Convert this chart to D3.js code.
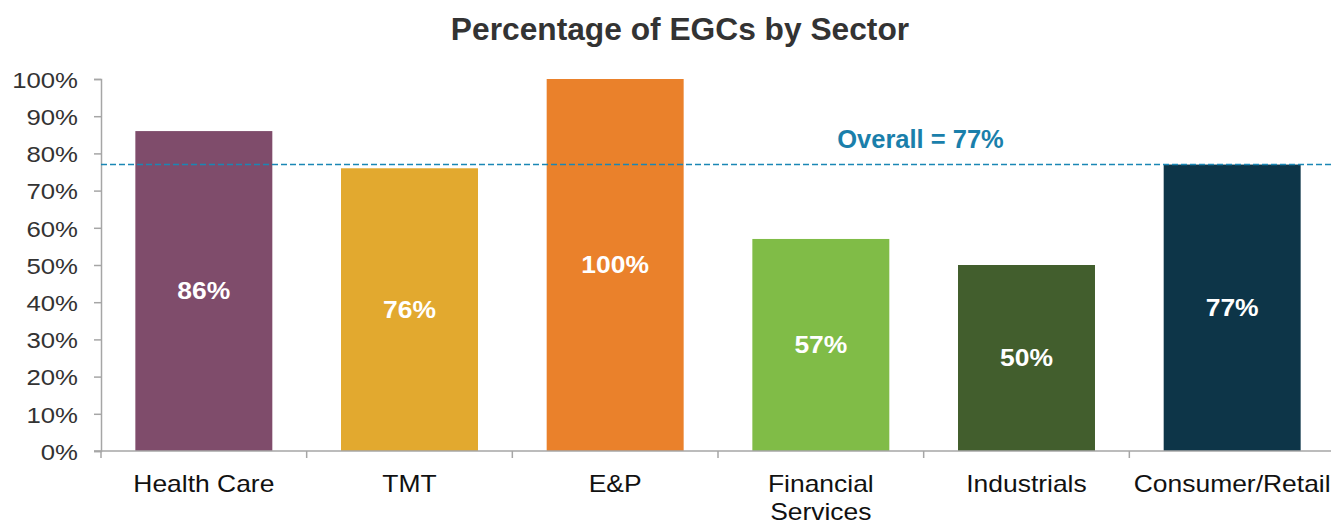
<!DOCTYPE html>
<html>
<head>
<meta charset="utf-8">
<script src="https://cdn.jsdelivr.net/npm/d3@7"></script>
<style>
  body { margin: 0; background: #fff; }
  text { font-family: "Liberation Sans", Arial, sans-serif; }
</style>
</head>
<body>
<svg id="chart" width="1331" height="522"></svg>
<script>
var sectors = ["Health Care", "TMT", "E&P", "Financial Services", "Industrials", "Consumer/Retail"];
var pctEGC = [86, 76, 100, 57, 50, 77];
var barColors = ["#7f4c6b", "#e2a92f", "#ea812b", "#80bc47", "#425e2d", "#0d3548"];
var yTicks = [0, 10, 20, 30, 40, 50, 60, 70, 80, 90, 100];
var overall = 77;

(function(){
  var svg = d3.select("#chart"),
      plotLeft = 101, plotRight = 1335, plotTop = 79, plotBottom = 451;

  // the source text is a bit wider than our font, stretch it around its anchor
  var stretch = function(sel, sx){
    sel.attr("transform", function(){
      var t = d3.select(this);
      var ax = +t.attr("x") || 0, ay = +t.attr("y") || 0;
      return "translate(" + ax + "," + ay + ") scale(" + sx + ",1) translate(" + (-ax) + "," + (-ay) + ")";
    });
  };

  var data = sectors.map(function(s, i){ return {sector: s, value: pctEGC[i], color: barColors[i]}; });

  var x = d3.scaleBand().domain(sectors).range([plotLeft, plotRight]).paddingInner(0.334).paddingOuter(0.167);
  var y = d3.scaleLinear().domain([0, 100]).range([plotBottom, plotTop]);

  // title
  svg.append("text")
    .attr("x", 680).attr("y", 40)
    .attr("text-anchor", "middle")
    .style("font-size", "30.5px").style("font-weight", "bold")
    .style("fill", "#333")
    .text("Percentage of EGCs by Sector")
    .call(stretch, 1.04);

  // bars
  svg.append("g").selectAll("rect")
    .data(data).enter().append("rect")
    .attr("x", function(d){ return x(d.sector); })
    .attr("y", function(d){ return y(d.value); })
    .attr("width", x.bandwidth())
    .attr("height", function(d){ return y(0) - y(d.value); })
    .attr("fill", function(d){ return d.color; });

  // value labels
  svg.append("g").selectAll("text")
    .data(data).enter().append("text")
    .attr("x", function(d){ return x(d.sector) + x.bandwidth() / 2; })
    .attr("y", function(d){ return (y(d.value) + y(0)) / 2 + 8.3; })
    .attr("text-anchor", "middle")
    .style("font-size", "23px").style("font-weight", "bold")
    .style("fill", "#fff")
    .text(function(d){ return d.value + "%"; })
    .call(stretch, 1.15);

  // y axis
  var yAxis = svg.append("g")
    .attr("transform", "translate(" + plotLeft + ",0)")
    .call(d3.axisLeft(y).tickValues(yTicks).tickFormat(function(d){ return d + "%"; }).tickSize(7).tickPadding(16));
  yAxis.select(".domain").attr("stroke", "#a6a6a6").attr("stroke-width", 1.5);
  yAxis.selectAll(".tick line").attr("stroke", "#a6a6a6").attr("stroke-width", 1.5);
  yAxis.selectAll(".tick text")
    .style("font-size", "23px").style("fill", "#333")
    .attr("dy", "0.36em")
    .style("font-family", "Liberation Sans, Arial, sans-serif")
    .call(stretch, 1.12);

  // x axis baseline and separators
  var xAxis = svg.append("g");
  xAxis.append("line")
    .attr("x1", plotLeft - 7).attr("x2", 1331)
    .attr("y1", plotBottom).attr("y2", plotBottom)
    .attr("stroke", "#a6a6a6").attr("stroke-width", 1.5);
  var boundaries = d3.range(sectors.length + 1).map(function(i){ return plotLeft + i * x.step(); });
  xAxis.selectAll("line.sep")
    .data(boundaries).enter().append("line")
    .attr("class", "sep")
    .attr("x1", function(d){ return d; }).attr("x2", function(d){ return d; })
    .attr("y1", plotBottom).attr("y2", plotBottom + 7)
    .attr("stroke", "#a6a6a6").attr("stroke-width", 1.5);

  // category labels (wrap Financial Services)
  xAxis.selectAll("text.cat")
    .data(sectors).enter().append("text")
    .attr("class", "cat")
    .attr("text-anchor", "middle")
    .attr("x", function(d){ return x(d) + x.bandwidth() / 2; })
    .attr("y", 492)
    .style("font-size", "23px").style("fill", "#111")
    .each(function(d){
      var t = d3.select(this);
      var parts = d === "Financial Services" ? ["Financial", "Services"] : [d];
      parts.forEach(function(p, i){
        t.append("tspan")
          .attr("x", x(d) + x.bandwidth() / 2)
          .attr("dy", i === 0 ? 0 : 28)
          .text(p);
      });
    })
    .call(stretch, 1.15);

  // overall line
  svg.append("line")
    .attr("x1", plotLeft).attr("x2", 1331)
    .attr("y1", y(overall)).attr("y2", y(overall))
    .attr("stroke", "#1a87b5").attr("stroke-width", 1.5)
    .attr("stroke-dasharray", "6,3");

  svg.append("text")
    .attr("x", 920.5).attr("y", 148)
    .attr("text-anchor", "middle")
    .style("font-size", "25.5px").style("font-weight", "bold")
    .style("fill", "#1a7fab")
    .text("Overall = " + overall + "%");
})();
</script>
</body>
</html>
